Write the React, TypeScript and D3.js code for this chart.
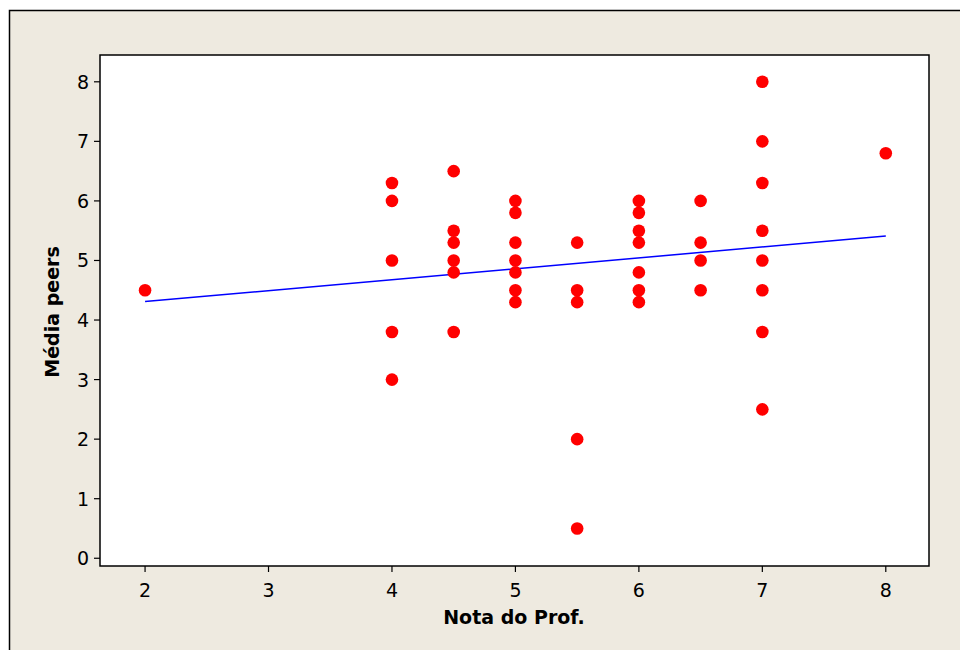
import React from "react";
import * as d3 from "d3";

const profGrades = [
  2,
  4, 4, 4, 4, 4,
  4.5, 4.5, 4.5, 4.5, 4.5, 4.5,
  5, 5, 5, 5, 5, 5, 5,
  5.5, 5.5, 5.5, 5.5, 5.5,
  6, 6, 6, 6, 6, 6, 6,
  6.5, 6.5, 6.5, 6.5,
  7, 7, 7, 7, 7, 7, 7, 7,
  8,
];
const peerMeans = [
  4.5,
  6.3, 6.0, 5.0, 3.8, 3.0,
  6.5, 5.5, 5.3, 5.0, 4.8, 3.8,
  6.0, 5.8, 5.3, 5.0, 4.8, 4.5, 4.3,
  5.3, 4.5, 4.3, 2.0, 0.5,
  6.0, 5.8, 5.5, 5.3, 4.8, 4.5, 4.3,
  6.0, 5.3, 5.0, 4.5,
  8.0, 7.0, 6.3, 5.5, 5.0, 4.5, 3.8, 2.5,
  6.8,
];
const fitX = [2, 8];
const fitY = [4.31, 5.41];
const xTicks = [2, 3, 4, 5, 6, 7, 8];
const yTicks = [0, 1, 2, 3, 4, 5, 6, 7, 8];

export default function App() {
  const W = 960, H = 650;
  const left = 100, right = 929, top = 55, bottom = 566;
  const x = d3.scaleLinear().domain([1.635, 8.35]).range([left, right]);
  const y = d3.scaleLinear().domain([-0.13, 8.45]).range([bottom, top]);
  const line = d3.line<number>().x((d) => x(d)).y((_, i) => y(fitY[i]));
  const font = "'DejaVu Sans', Verdana, sans-serif";
  return (
    <svg width={W} height={H} style={{ position: "absolute", left: 0, top: 0, background: "#fff" }}>
      <rect x={9.5} y={10.5} width={W + 10} height={H + 10} fill="#EEEAE0" stroke="#000" strokeWidth={1.5} />
      <rect x={left} y={top} width={right - left} height={bottom - top} fill="#fff" stroke="#000" strokeWidth={1.5} />
      {xTicks.map((t) => (
        <g key={"x" + t}>
          <line x1={x(t)} x2={x(t)} y1={bottom} y2={bottom + 6} stroke="#000" strokeWidth={1.2} />
          <text x={x(t)} y={597} textAnchor="middle" fontFamily={font} fontSize={19} fill="#000">{t}</text>
        </g>
      ))}
      {yTicks.map((t) => (
        <g key={"y" + t}>
          <line x1={left - 6} x2={left} y1={y(t)} y2={y(t)} stroke="#000" strokeWidth={1.2} />
          <text x={89} y={y(t) + 7} textAnchor="end" fontFamily={font} fontSize={19} fill="#000">{t}</text>
        </g>
      ))}
      <text x={514} y={624} textAnchor="middle" fontFamily={font} fontSize={19} fontWeight="bold" fill="#000">Nota do Prof.</text>
      <text transform={`translate(59,312) rotate(-90)`} textAnchor="middle" fontFamily={font} fontSize={19} fontWeight="bold" fill="#000">Média peers</text>
      <path d={line(fitX) || ""} fill="none" stroke="#0000FF" strokeWidth={1.5} />
      {profGrades.map((g, i) => (
        <circle key={i} cx={x(g)} cy={y(peerMeans[i])} r={6.3} fill="#FF0000" />
      ))}
    </svg>
  );
}
